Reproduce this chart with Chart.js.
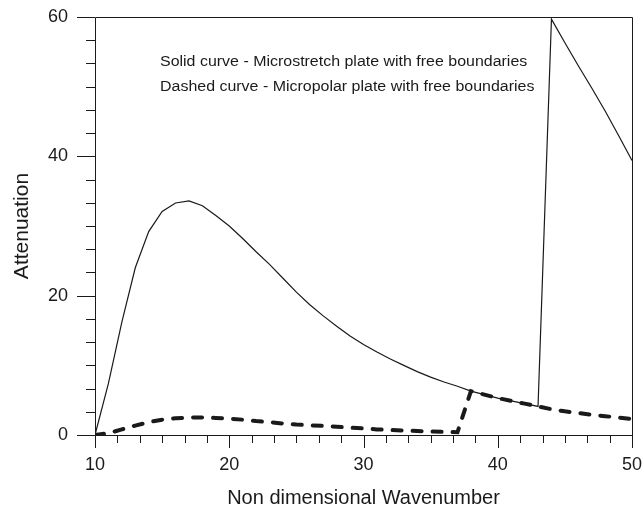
<!DOCTYPE html>
<html>
<head>
<meta charset="utf-8">
<script src="https://cdn.jsdelivr.net/npm/chart.js@4.4.1/dist/chart.umd.min.js"></script>
<style>
    html, body { margin: 0; padding: 0; background: #fff; }
    #wrap { width: 643px; height: 512px; }
</style>
</head>
<body>
<div id="wrap"><canvas id="attenuationChart" width="643" height="512"></canvas></div>
<script>
// wavenumber samples (x) and attenuation for both plates
var waveNumber = [10, 11, 12, 13, 14, 15, 16, 17, 18, 19, 20, 21, 22, 23, 24, 25, 26, 27, 28, 29,
    30, 31, 32, 33, 34, 35, 36, 37, 38, 39, 40, 41, 42, 43, 44, 45, 46, 47, 48, 49, 50];
var microstretch = [0, 7.4, 16.2, 24.0, 29.2, 32.1, 33.3, 33.6, 32.9, 31.5, 30.0, 28.2, 26.3, 24.5, 22.5, 20.5, 18.7, 17.1, 15.6, 14.2,
    13.0, 11.9, 10.9, 10.0, 9.1, 8.3, 7.6, 7.0, 6.3, 5.8, 5.3, 4.9, 4.5, 4.1, 59.7, 56.3, 53.0, 49.8, 46.5, 43.0, 39.4];
var micropolar = [0, 0.25, 0.8, 1.35, 1.85, 2.2, 2.4, 2.5, 2.5, 2.45, 2.35, 2.2, 2.0, 1.85, 1.65, 1.5, 1.4, 1.3, 1.2, 1.05,
    0.95, 0.8, 0.72, 0.64, 0.57, 0.5, 0.44, 0.4, 6.3, 5.8, 5.3, 4.9, 4.5, 4.1, 3.7, 3.4, 3.15, 2.9, 2.7, 2.5, 2.3];

var xTicks = [10, 20, 30, 40, 50];
var yTicks = [0, 20, 40, 60];
var notes = [
    'Solid curve - Microstretch plate with free boundaries',
    'Dashed curve - Micropolar plate with free boundaries'
];

const ink = '#1a1a1a';
const toPoints = (xs, ys) => xs.map((x, i) => ({x: x, y: ys[i]}));

// box around the plot + outward tick marks (6 minor steps per major step)
const frameTicks = {
    id: 'frameTicks',
    afterDraw(chart) {
        const ctx = chart.ctx;
        const a = chart.chartArea;
        const sx = chart.scales.x, sy = chart.scales.y;
        ctx.save();
        ctx.strokeStyle = ink;
        ctx.lineWidth = 1;
        ctx.beginPath();
        ctx.rect(Math.round(a.left) + 0.5, Math.round(a.top) + 0.5,
            Math.round(a.right - a.left), Math.round(a.bottom - a.top));
        ctx.stroke();

        ctx.beginPath();
        for (let i = 0; i < xTicks.length; i++) {
            let px = Math.round(sx.getPixelForValue(xTicks[i])) + 0.5;
            ctx.moveTo(px, a.bottom);
            ctx.lineTo(px, a.bottom + 13);
            if (i < xTicks.length - 1) {
                let step = (xTicks[i + 1] - xTicks[i]) / 6;
                for (let k = 1; k < 6; k++) {
                    let mx = Math.round(sx.getPixelForValue(xTicks[i] + k * step)) + 0.5;
                    ctx.moveTo(mx, a.bottom);
                    ctx.lineTo(mx, a.bottom + 8);
                }
            }
        }
        for (let i = 0; i < yTicks.length; i++) {
            let py = Math.round(sy.getPixelForValue(yTicks[i])) + 0.5;
            ctx.moveTo(a.left, py);
            ctx.lineTo(a.left - 18, py);
            if (i < yTicks.length - 1) {
                let step = (yTicks[i + 1] - yTicks[i]) / 6;
                for (let k = 1; k < 6; k++) {
                    let my = Math.round(sy.getPixelForValue(yTicks[i] + k * step)) + 0.5;
                    ctx.moveTo(a.left, my);
                    ctx.lineTo(a.left - 9, my);
                }
            }
        }
        ctx.stroke();

        // curve notes, slightly widened like the rest of the figure
        ctx.fillStyle = ink;
        ctx.font = '14px "Liberation Sans", Arial, sans-serif';
        ctx.textBaseline = 'alphabetic';
        ctx.translate(a.left + 65, a.top);
        ctx.scale(1.14, 1);
        notes.forEach((t, i) => ctx.fillText(t, 0, 49 + i * 25));
        ctx.restore();
    }
};

const ctx = document.getElementById('attenuationChart').getContext('2d');
const chart = new Chart(ctx, {
    type: 'scatter',
    data: {
        datasets: [{
            label: 'Microstretch',
            data: toPoints(waveNumber, microstretch),
            showLine: true,
            borderColor: ink,
            borderWidth: 1.2,
            pointRadius: 0,
            tension: 0
        }, {
            label: 'Micropolar',
            data: toPoints(waveNumber, micropolar),
            showLine: true,
            borderColor: ink,
            borderWidth: 4,
            borderDash: [9, 11],
            borderCapStyle: 'round',
            pointRadius: 0,
            tension: 0
        }]
    },
    options: {
        responsive: false,
        animation: false,
        devicePixelRatio: 1,
        layout: { padding: { top: 17, right: 11, left: 0, bottom: 0 } },
        plugins: { legend: { display: false }, tooltip: { enabled: false } },
        scales: {
            x: {
                type: 'linear',
                min: 10,
                max: 50,
                afterFit: s => { s.height = 77; },
                afterBuildTicks: s => { s.ticks = xTicks.map(v => ({value: v})); },
                // tick marks are drawn by frameTicks; tickLength only sets the label gap
                grid: { display: false, drawTicks: true, tickLength: 19 },
                border: { display: false },
                ticks: {
                    padding: 0,
                    color: ink,
                    maxRotation: 0,
                    font: { family: '"Liberation Sans", Arial, sans-serif', size: 18 }
                },
                title: {
                    display: true,
                    text: 'Non dimensional Wavenumber',
                    color: ink,
                    padding: { top: 0, bottom: 2 },
                    font: { family: '"Liberation Sans", Arial, sans-serif', size: 20 }
                }
            },
            y: {
                type: 'linear',
                min: 0,
                max: 60,
                afterFit: s => { s.width = 95; },
                afterBuildTicks: s => { s.ticks = yTicks.map(v => ({value: v})); },
                grid: { display: false, drawTicks: true, tickLength: 27 },
                border: { display: false },
                ticks: {
                    padding: 0,
                    color: ink,
                    font: { family: '"Liberation Sans", Arial, sans-serif', size: 18 }
                },
                title: {
                    display: true,
                    text: 'Attenuation',
                    color: ink,
                    padding: { top: 10, bottom: 0 },
                    font: { family: '"Liberation Sans", Arial, sans-serif', size: 21 }
                }
            }
        }
    },
    plugins: [frameTicks]
});
</script>
</body>
</html>
